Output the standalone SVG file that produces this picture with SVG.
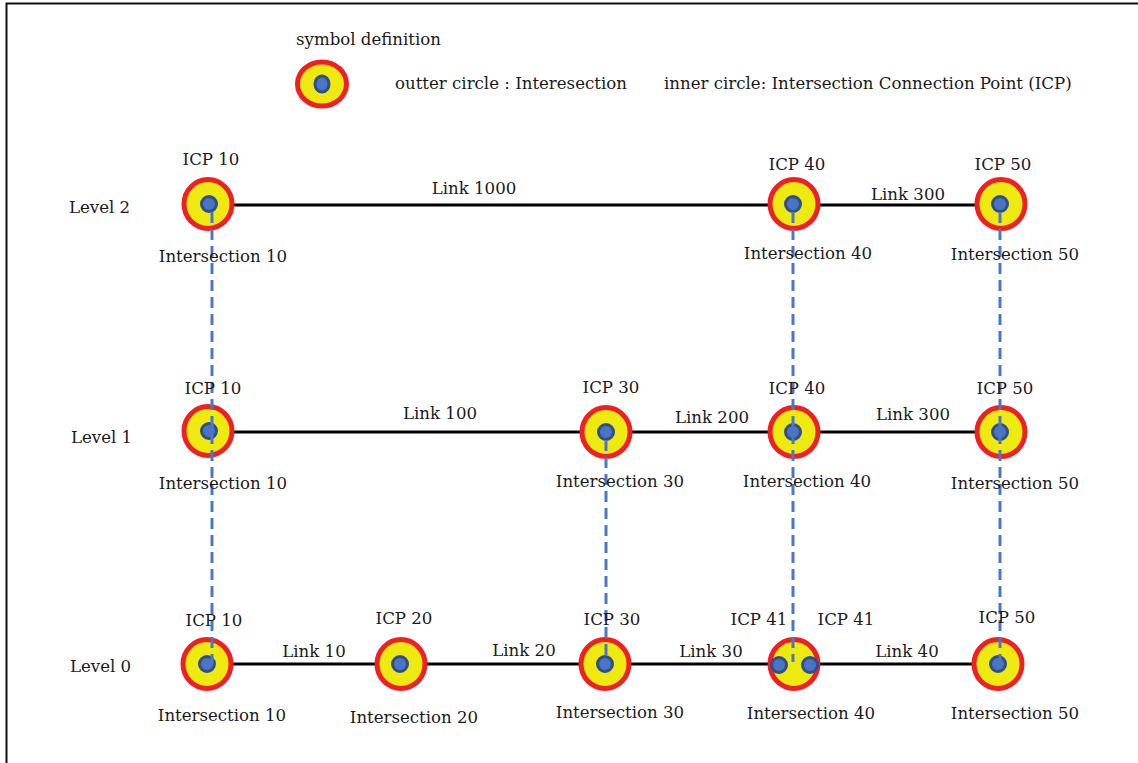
<svg xmlns="http://www.w3.org/2000/svg" width="1138" height="763" viewBox="0 0 1138 763">
<defs>
<style>
text{font-family:"DejaVu Serif","Liberation Serif",serif;font-size:16.6px;fill:#1a1a1a}
.c{text-anchor:middle}
.outer{fill:#eeea10;stroke:#ee2024;stroke-width:5}
.inner{fill:#4a74c4;stroke:#2f4e8c;stroke-width:3}
.link{stroke:#000;stroke-width:3;fill:none}
.dash{stroke:#4a78c8;stroke-width:3;stroke-dasharray:11 6;fill:none}
</style>
</defs>
<rect x="0" y="0" width="1138" height="763" fill="#fff"/>
<path d="M6.5 763 V3.5 H1138" fill="none" stroke="#111" stroke-width="2"/>
<g id="legend">
<text x="296" y="45">symbol definition</text>
<ellipse class="outer" cx="322" cy="84" rx="24.5" ry="22"/>
<ellipse class="inner" cx="322" cy="84" rx="7" ry="8"/>
<text x="395" y="89">outter circle : Interesection</text>
<text x="664" y="89">inner circle: Intersection Connection Point (ICP)</text>
</g>
<g id="levels">
<text x="69" y="213">Level 2</text>
<text x="71" y="443">Level 1</text>
<text x="70" y="672">Level 0</text>
</g>
<g id="connectors">
<path class="link" d="M209 205 H1000"/>
<path class="link" d="M208 432 H1000"/>
<path class="link" d="M206 664 H998"/>
</g>
<g id="l2-int10"><ellipse class="outer" cx="208" cy="204" rx="24" ry="24.5"/><circle class="inner" cx="209" cy="204" r="7.5"/></g>
<g id="l2-int40"><ellipse class="outer" cx="794" cy="204" rx="24" ry="24.5"/><circle class="inner" cx="793" cy="204" r="7.5"/></g>
<g id="l2-int50"><ellipse class="outer" cx="1001" cy="204" rx="24" ry="24.5"/><circle class="inner" cx="1000" cy="204" r="7.5"/></g>
<g id="l1-int10"><ellipse class="outer" cx="208" cy="431" rx="24" ry="24.5"/><circle class="inner" cx="209" cy="431" r="7.5"/></g>
<g id="l1-int30"><ellipse class="outer" cx="606" cy="432" rx="24" ry="24.5"/><circle class="inner" cx="606" cy="432" r="7.5"/></g>
<g id="l1-int40"><ellipse class="outer" cx="794" cy="432" rx="24" ry="24.5"/><circle class="inner" cx="793" cy="432" r="7.5"/></g>
<g id="l1-int50"><ellipse class="outer" cx="1001" cy="432" rx="24" ry="24.5"/><circle class="inner" cx="1000" cy="432" r="7.5"/></g>
<g id="l0-int10"><ellipse class="outer" cx="207" cy="664" rx="24" ry="24.5"/><circle class="inner" cx="207" cy="664" r="7.5"/></g>
<g id="l0-int20"><ellipse class="outer" cx="401" cy="664" rx="24" ry="24.5"/><circle class="inner" cx="400" cy="664" r="7.5"/></g>
<g id="l0-int30"><ellipse class="outer" cx="605" cy="664" rx="24" ry="24.5"/><circle class="inner" cx="605" cy="664" r="7.5"/></g>
<g id="l0-int40"><ellipse class="outer" cx="794" cy="664" rx="24" ry="24.5"/><circle class="inner" cx="779" cy="665" r="7.5"/><circle class="inner" cx="810" cy="665" r="7.5"/></g>
<g id="l0-int50"><ellipse class="outer" cx="998" cy="664" rx="24" ry="24.5"/><circle class="inner" cx="998" cy="664" r="7.5"/></g>
<g id="dashes">
<path class="dash" d="M212 212 V664"/>
<path class="dash" d="M793 212 V662"/>
<path class="dash" d="M1000 212 V662"/>
<path class="dash" d="M606 440 V662"/>
</g>
<g id="labels">
<text class="c" x="211" y="165">ICP 10</text>
<text class="c" x="223" y="262">Intersection 10</text>
<text class="c" x="797" y="170">ICP 40</text>
<text class="c" x="808" y="259">Intersection 40</text>
<text class="c" x="1003" y="170">ICP 50</text>
<text class="c" x="1015" y="260">Intersection 50</text>
<text class="c" x="474" y="194">Link 1000</text>
<text class="c" x="908" y="200">Link 300</text>
<text class="c" x="213" y="394">ICP 10</text>
<text class="c" x="223" y="489">Intersection 10</text>
<text class="c" x="611" y="393">ICP 30</text>
<text class="c" x="620" y="487">Intersection 30</text>
<text class="c" x="797" y="394">ICP 40</text>
<text class="c" x="807" y="487">Intersection 40</text>
<text class="c" x="1005" y="394">ICP 50</text>
<text class="c" x="1015" y="489">Intersection 50</text>
<text class="c" x="440" y="419">Link 100</text>
<text class="c" x="712" y="423">Link 200</text>
<text class="c" x="913" y="420">Link 300</text>
<text class="c" x="214" y="626">ICP 10</text>
<text class="c" x="222" y="721">Intersection 10</text>
<text class="c" x="404" y="624">ICP 20</text>
<text class="c" x="414" y="723">Intersection 20</text>
<text class="c" x="612" y="625">ICP 30</text>
<text class="c" x="620" y="718">Intersection 30</text>
<text class="c" x="759" y="625">ICP 41</text>
<text class="c" x="846" y="625">ICP 41</text>
<text class="c" x="811" y="719">Intersection 40</text>
<text class="c" x="1007" y="623">ICP 50</text>
<text class="c" x="1015" y="719">Intersection 50</text>
<text class="c" x="314" y="657">Link 10</text>
<text class="c" x="524" y="656">Link 20</text>
<text class="c" x="711" y="657">Link 30</text>
<text class="c" x="907" y="657">Link 40</text>
</g>
</svg>
